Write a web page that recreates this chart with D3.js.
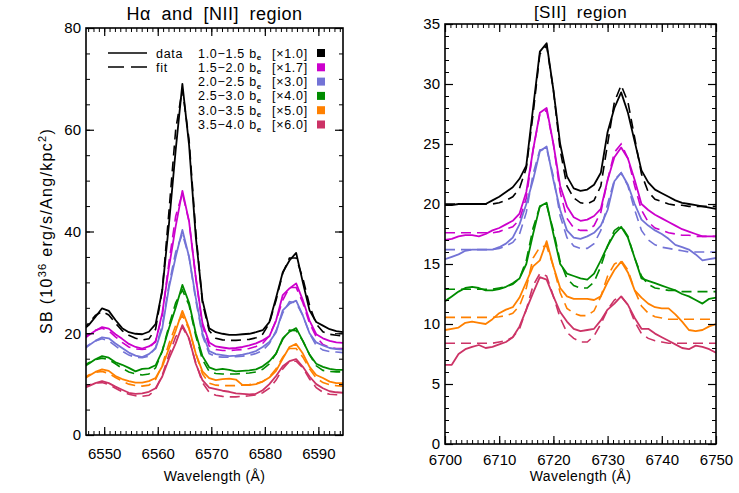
<!DOCTYPE html>
<html>
<head>
<meta charset="utf-8">
<title>Halpha / [NII] and [SII] spectra</title>
<script src="https://cdn.jsdelivr.net/npm/d3@7"></script>
<style>
  body { margin: 0; background: #fff; }
  svg { font-family: "Liberation Sans", Arial, sans-serif; }
</style>
</head>
<body>
<svg id="chart" width="739" height="493"></svg>
<script>
// radial bins, scale factors, colours (one per spectrum)
const bins = ["1.0\u22121.5", "1.5\u22122.0", "2.0\u22122.5", "2.5\u22123.0", "3.0\u22123.5", "3.5\u22124.0"];
const factors = ["\u00d71.0", "\u00d71.7", "\u00d73.0", "\u00d74.0", "\u00d75.0", "\u00d76.0"];
const colors = ["#000000", "#cc00cc", "#7373d6", "#008c00", "#ff8000", "#cc3366"];

// Halpha + [NII] panel
const haWave = [6545.85, 6547.10, 6548.35, 6549.60, 6550.85, 6552.10, 6553.35, 6554.60, 6555.85, 6557.10,
  6558.35, 6559.60, 6560.85, 6562.10, 6563.35, 6564.60, 6565.85, 6567.10, 6568.35, 6569.60,
  6570.85, 6572.10, 6573.35, 6574.60, 6575.85, 6577.10, 6578.35, 6579.60, 6580.85, 6582.10,
  6583.35, 6584.60, 6585.85, 6587.10, 6588.35, 6589.60, 6590.85, 6592.10, 6593.35, 6594.60];
const haData = [
  [20.5,21.6,23.2,24.9,24.4,22.6,21.0,20.2,19.9,19.8, 20.3,21.8,28.5,41.5,56,69,57,39,26.5,21.0, 20.2,19.9,19.7,19.7,19.8,19.9,20.2,20.6,22.2,27, 32,34.3,35.8,30.0,24.5,22.2,21.5,20.8,20.4,20.2],
  [18.6,19.6,20.5,21.2,20.9,19.8,18.9,17.9,17.3,17.0, 17.4,18.3,24,33,41,48,42,31,22,18.2, 17.4,17.2,17.0,17.1,17.3,17.6,18.0,18.6,19.4,22.5, 27.5,28.8,29.8,26.5,22.5,19.8,19.0,18.5,18.2,18.1],
  [16.6,17.6,18.5,19.2,19.0,18.0,17.1,16.2,15.6,15.3, 15.9,17.0,21,29,35,40.3,35,27,20,16.5, 15.9,15.7,15.5,15.6,15.8,16.1,16.5,17.3,18.3,20.2, 24.5,25.8,26.4,23.5,20.0,18.2,17.6,17.1,16.9,16.8],
  [13.2,14.0,14.9,15.5,15.2,14.3,13.8,13.2,12.5,13.0, 13.1,13.7,16.5,21,25,29.5,26,20,15.5,13.3, 12.8,13.0,12.8,12.5,12.6,12.7,12.9,13.5,14.5,16.0, 19.0,20.3,21.0,18.5,15.8,14.0,13.4,13.0,12.8,12.8],
  [10.8,11.6,12.4,12.9,12.6,11.6,11.0,10.6,10.3,10.3, 10.6,11.2,13.5,17,20.5,24.4,21,16,12.5,11.2, 10.8,11.0,11.1,10.9,9.8,9.8,10.0,10.5,11.3,12.6, 15.0,17.3,17.9,16.0,13.4,11.8,11.2,10.5,10.2,10.2],
  [9.0,9.6,10.2,10.6,10.2,9.5,8.9,8.3,8.1,8.2, 8.5,9.2,11.5,15,18,21.6,19,14,10.8,9.3, 9.0,8.7,8.5,8.2,8.1,8.0,8.1,8.8,10.0,11.6, 13.5,14.5,14.9,13.4,11.5,10.0,9.2,8.6,8.4,8.3]
];
const haFit = [
  [20.5,22.0,23.5,24.3,23.6,22.0,20.5,19.6,19.0,18.7, 18.9,20.8,28.5,44,60,68,58,40,26,20.5, 19.0,18.7,18.6,18.6,18.7,18.8,19.1,19.8,22.0,26.5, 31.8,34.8,34.8,30.8,25.5,21.8,20.3,19.8,19.6,19.5],
  [18.8,19.8,20.6,21.0,20.5,19.3,18.2,17.3,16.9,16.8, 17.0,18.5,23.5,34,43,47.5,42,31,21.5,17.5, 16.8,16.6,16.6,16.7,16.8,17.0,17.4,18.0,19.5,22.5, 26.5,29,29,26,22,19.3,17.8,17.2,17.0,17.0],
  [16.8,17.7,18.5,18.9,18.5,17.5,16.5,15.7,15.3,15.2, 15.5,17.2,21.5,29.5,36,39.5,35,26.5,19.5,16.0, 15.4,15.3,15.3,15.4,15.5,15.7,16.0,16.6,18.0,20.5, 24.0,26.2,26.0,23.5,20.0,17.6,16.7,16.4,16.3,16.2],
  [13.4,14.2,14.8,15.1,14.8,14.0,13.1,12.4,12.0,11.8, 12.0,13.2,16.5,21.5,26,28.5,25.5,19.5,14.8,12.5, 12.1,12.0,12.0,12.0,12.1,12.2,12.4,12.9,14.0,16.0, 18.8,20.6,20.5,18.5,15.8,13.6,12.7,12.5,12.4,12.4],
  [11.0,11.8,12.3,12.5,12.1,11.3,10.6,10.0,9.7,9.6, 9.8,10.9,13.8,18,21.5,23.5,20.8,16,12,10.2, 9.8,9.7,9.7,9.7,9.8,9.9,10.1,10.5,11.4,13.0, 15.3,17.0,17.0,15.3,13.0,11.2,10.3,9.9,9.7,9.6],
  [9.3,9.8,10.2,10.3,9.9,9.2,8.5,8.0,7.7,7.6, 7.8,8.9,11.8,15.8,19.3,21.2,18.8,14.2,10.3,8.4, 7.8,7.6,7.5,7.5,7.6,7.7,7.9,8.3,9.2,10.8, 13.0,14.5,14.5,13.2,11.0,9.3,8.4,8.0,7.9,7.9]
];

// [SII] panel
const siiWave = [6700.00, 6701.25, 6702.50, 6703.75, 6705.00, 6706.25, 6707.50, 6708.75, 6710.00, 6711.25,
  6712.50, 6713.75, 6715.00, 6716.25, 6717.50, 6718.75, 6720.00, 6721.25, 6722.50, 6723.75,
  6725.00, 6726.25, 6727.50, 6728.75, 6730.00, 6731.25, 6732.50, 6733.75, 6735.00, 6736.25,
  6737.50, 6738.75, 6740.00, 6741.25, 6742.50, 6743.75, 6745.00, 6746.25, 6747.50, 6748.75, 6750.00];
const siiData = [
  [19.9,19.9,20.0,20.0,20.0,20.0,20.0,20.3,20.6,21.0, 21.4,22.1,23.2,28.0,32.7,33.4,29.5,25.0,22.3,21.3, 21.1,21.2,21.6,22.6,26.0,28.0,29.3,27.6,25.2,22.8, 21.8,21.2,20.9,20.6,20.3,20.1,20.0,19.9,19.8,19.7, 19.6],
  [17.0,17.1,17.3,17.4,17.4,17.3,17.5,17.8,18.0,18.3, 18.6,19.2,21.0,24.5,27.6,28.0,25.0,21.5,19.8,18.9, 18.6,18.7,19.0,19.6,22.0,23.9,24.7,23.8,22.0,20.0, 19.5,19.1,18.8,18.5,18.2,17.9,17.7,17.5,17.3,17.3, 17.3],
  [15.4,15.6,15.8,16.1,16.2,16.2,16.2,16.2,16.4,16.7, 17.2,18.3,20.0,22.0,24.4,24.8,22.0,19.5,17.8,17.2, 17.1,17.3,17.6,18.2,19.5,21.9,22.6,21.6,20.0,18.7, 18.2,17.8,17.5,17.1,16.6,16.4,16.2,15.8,15.3,15.4, 15.5],
  [11.9,12.3,12.7,13.0,13.1,13.0,12.8,12.8,12.9,13.1, 13.4,13.8,15.0,17.5,19.8,20.1,17.5,15.0,14.2,14.0, 13.8,13.7,14.2,15.3,16.5,17.5,18.1,17.2,15.5,13.8, 13.6,13.4,13.2,13.0,12.8,12.5,12.3,12.0,11.7,12.1, 12.2],
  [9.5,9.6,9.7,10.1,10.2,10.1,10.0,10.4,10.9,11.2, 11.4,12.2,13.5,14.8,15.3,16.9,14.8,13.0,12.3,12.1, 12.1,12.1,12.0,12.3,13.5,14.5,15.2,14.3,12.8,12.2, 11.7,11.4,11.3,11.3,10.8,10.2,9.5,9.4,9.5,9.8, 10.0],
  [6.6,6.6,7.5,7.9,8.1,8.25,8.0,8.1,8.3,8.5, 8.9,9.8,11.2,12.6,13.9,13.7,12.3,11.0,10.2,9.6, 9.4,9.5,9.6,10.3,11.2,11.7,12.3,11.6,10.5,9.6, 9.6,9.2,8.9,8.6,8.3,8.0,7.9,8.2,8.1,7.9, 7.6]
];
const siiFit = [
  [20.0,20.0,20.0,20.0,20.0,20.0,20.0,20.0,20.1,20.3, 20.6,21.3,23.0,27.5,32.5,33.2,29.5,24.5,21.5,20.5, 20.1,20.0,20.3,21.5,25.0,28.5,29.9,28.5,25.5,22.5, 21.0,20.4,20.2,20.0,19.9,19.9,19.8,19.8,19.8,19.8, 19.8],
  [17.6,17.6,17.6,17.6,17.6,17.6,17.6,17.6,17.7,17.9, 18.1,18.7,20.5,24.5,27.5,27.8,25.0,21.0,18.8,18.0, 17.8,17.8,18.2,19.3,22.0,24.3,25.0,23.8,21.5,19.5, 18.5,18.0,17.8,17.6,17.5,17.4,17.4,17.3,17.3,17.3, 17.3],
  [16.2,16.2,16.2,16.2,16.2,16.2,16.2,16.2,16.3,16.5, 16.8,17.5,19.3,22.5,24.5,24.6,22.3,19.0,17.2,16.5, 16.3,16.3,16.7,17.8,20.0,22.0,22.6,21.5,19.5,17.8, 17.0,16.6,16.4,16.3,16.2,16.1,16.0,16.0,16.0,16.0, 16.0],
  [12.9,12.9,12.9,12.9,12.9,12.9,12.9,12.9,13.0,13.1, 13.3,13.8,15.3,18.0,19.8,19.9,17.8,15.2,13.8,13.2, 13.0,13.0,13.5,14.8,16.5,17.8,18.2,17.3,15.5,14.0, 13.3,13.0,12.9,12.8,12.8,12.7,12.7,12.7,12.7,12.7, 12.7],
  [10.55,10.55,10.55,10.55,10.55,10.55,10.55,10.55,10.6,10.7, 10.9,11.5,13.0,15.5,16.4,16.5,14.8,12.6,11.3,10.9, 10.7,10.7,11.1,12.3,14.0,15.0,15.3,14.5,12.8,11.5, 10.9,10.6,10.5,10.4,10.4,10.4,10.4,10.4,10.4,10.4, 10.4],
  [8.4,8.4,8.4,8.4,8.4,8.4,8.4,8.4,8.5,8.6, 8.9,9.6,11.2,13.2,14.2,14.0,12.3,10.5,9.3,8.8, 8.5,8.5,9.0,10.0,11.2,12.0,12.3,11.6,10.2,9.2, 8.8,8.6,8.5,8.4,8.4,8.4,8.4,8.4,8.4,8.4, 8.4]
];

const haXTicks = [6550, 6560, 6570, 6580, 6590];
const haYTicks = [0, 20, 40, 60, 80];
const siiXTicks = [6700, 6710, 6720, 6730, 6740, 6750];
const siiYTicks = [0, 5, 10, 15, 20, 25, 30, 35];

const svg = d3.select("#chart");

function drawPanel(o) {
  const x = d3.scaleLinear().domain(o.xDomain).range([o.x0, o.x1]);
  const y = d3.scaleLinear().domain(o.yDomain).range([o.y1, o.y0]);
  const g = svg.append("g");

  g.append("clipPath").attr("id", o.id)
    .append("rect")
      .attr("x", o.x0).attr("y", o.y0)
      .attr("width", o.x1 - o.x0).attr("height", o.y1 - o.y0);

  const plot = g.append("g").attr("clip-path", `url(#${o.id})`);
  const line = d3.line().x((d, i) => x(o.wave[i])).y(d => y(d));

  o.data.forEach((s, k) => {
    plot.append("path")
      .attr("d", line(o.fit[k]))
      .attr("fill", "none")
      .attr("stroke", colors[k])
      .attr("stroke-width", 1.6)
      .attr("stroke-dasharray", "10,6");
    plot.append("path")
      .attr("d", line(s))
      .attr("fill", "none")
      .attr("stroke", colors[k])
      .attr("stroke-width", 1.8)
      .attr("stroke-linejoin", "round");
  });

  // minor ticks on all four sides
  const xMin = d3.range(Math.ceil(o.xDomain[0]), o.xDomain[1] + 0.01, o.xMinorStep);
  const yMin = d3.range(o.yDomain[0], o.yDomain[1] + 0.01, o.yMinorStep);
  const minor = [
    [d3.axisBottom(x).tickValues(xMin), `translate(0,${o.y1})`],
    [d3.axisTop(x).tickValues(xMin), `translate(0,${o.y0})`],
    [d3.axisLeft(y).tickValues(yMin), `translate(${o.x0},0)`],
    [d3.axisRight(y).tickValues(yMin), `translate(${o.x1},0)`]
  ];
  minor.forEach(([ax, tr]) => {
    g.append("g").attr("transform", tr)
      .call(ax.tickSizeInner(-4).tickSizeOuter(0).tickFormat(""))
      .call(a => a.select(".domain").remove());
  });

  // major ticks
  const major = [
    [d3.axisBottom(x).tickValues(o.xTicks).tickPadding(o.xPad), `translate(0,${o.y1})`, true],
    [d3.axisTop(x).tickValues(o.xTicks), `translate(0,${o.y0})`, false],
    [d3.axisLeft(y).tickValues(o.yTicks).tickPadding(5), `translate(${o.x0},0)`, true],
    [d3.axisRight(y).tickValues(o.yTicks), `translate(${o.x1},0)`, false]
  ];
  major.forEach(([ax, tr, lab]) => {
    const a = g.append("g").attr("transform", tr)
      .call(ax.tickSizeInner(-8).tickSizeOuter(0).tickFormat(lab ? d3.format("d") : ""));
    a.select(".domain").remove();
    a.selectAll("line").attr("stroke-width", 1.2);
    a.selectAll("text").attr("font-size", 15).attr("fill", "#000")
      .attr("font-family", "Liberation Sans, Arial, sans-serif");
  });

  g.append("rect")
    .attr("x", o.x0).attr("y", o.y0)
    .attr("width", o.x1 - o.x0).attr("height", o.y1 - o.y0)
    .attr("fill", "none").attr("stroke", "#000").attr("stroke-width", 1.6);

  g.append("text")
    .attr("x", (o.x0 + o.x1) / 2).attr("y", o.titleY)
    .attr("text-anchor", "middle")
    .attr("font-size", o.titleSize)
    .attr("letter-spacing", 0.5)
    .attr("word-spacing", 5)
    .text(o.title);

  g.append("text")
    .attr("x", (o.x0 + o.x1) / 2).attr("y", 481)
    .attr("text-anchor", "middle")
    .attr("font-size", 14)
    .attr("letter-spacing", 0.4)
    .text("Wavelength (\u00c5)");

  return { x, y, g };
}

const left = drawPanel({
  id: "clipHa", x0: 86, x1: 343, y0: 28, y1: 435,
  xDomain: [6546.6, 6594.6], yDomain: [0, 80],
  xTicks: haXTicks, yTicks: haYTicks, xMinorStep: 1, yMinorStep: 5, xPad: 13,
  wave: haWave, data: haData, fit: haFit,
  title: "H\u03b1 and [NII] region", titleY: 20, titleSize: 18
});

drawPanel({
  id: "clipSii", x0: 445, x1: 716, y0: 24, y1: 444,
  xDomain: [6700, 6750], yDomain: [0, 35],
  xTicks: siiXTicks, yTicks: siiYTicks, xMinorStep: 1, yMinorStep: 1, xPad: 10,
  wave: siiWave, data: siiData, fit: siiFit,
  title: "[SII] region", titleY: 18, titleSize: 17
});

// y axis title
const yl = svg.append("text")
  .attr("transform", "translate(52,231) rotate(-90)")
  .attr("text-anchor", "middle")
  .attr("font-size", 16)
  .attr("letter-spacing", 1.3);
yl.append("tspan").text("SB (10");
yl.append("tspan").attr("baseline-shift", "super").attr("font-size", 11).text("36");
yl.append("tspan").text(" erg/s/Ang/kpc");
yl.append("tspan").attr("baseline-shift", "super").attr("font-size", 11).text("2");
yl.append("tspan").text(")");

// legend
const lg = left.g.append("g");
lg.append("line").attr("x1", 108).attr("x2", 147).attr("y1", 53).attr("y2", 53)
  .attr("stroke", "#000").attr("stroke-width", 1.6);
lg.append("line").attr("x1", 108).attr("x2", 147).attr("y1", 67).attr("y2", 67)
  .attr("stroke", "#000").attr("stroke-width", 1.6).attr("stroke-dasharray", "16,7");
lg.append("text").attr("x", 156).attr("y", 57.5).attr("font-size", 12.5).attr("letter-spacing", 0.7).text("data");
lg.append("text").attr("x", 156).attr("y", 71.5).attr("font-size", 12.5).attr("letter-spacing", 0.7).text("fit");

bins.forEach((b, i) => {
  const yy = 53 + i * 14.3;
  const t = lg.append("text").attr("x", 198).attr("y", yy + 4.5)
    .attr("font-size", 12.5).attr("letter-spacing", 0.7);
  t.append("tspan").text(b + " b");
  t.append("tspan").attr("font-size", 8).attr("font-weight", "bold").attr("dy", 2.5).text("e");
  lg.append("text").attr("x", 272).attr("y", yy + 4.5)
    .attr("font-size", 12.5).attr("letter-spacing", 0.7)
    .text("[" + factors[i] + "]");
  lg.append("rect").attr("x", 317).attr("y", yy - 4).attr("width", 8).attr("height", 8)
    .attr("fill", colors[i]);
});
</script>
</body>
</html>
